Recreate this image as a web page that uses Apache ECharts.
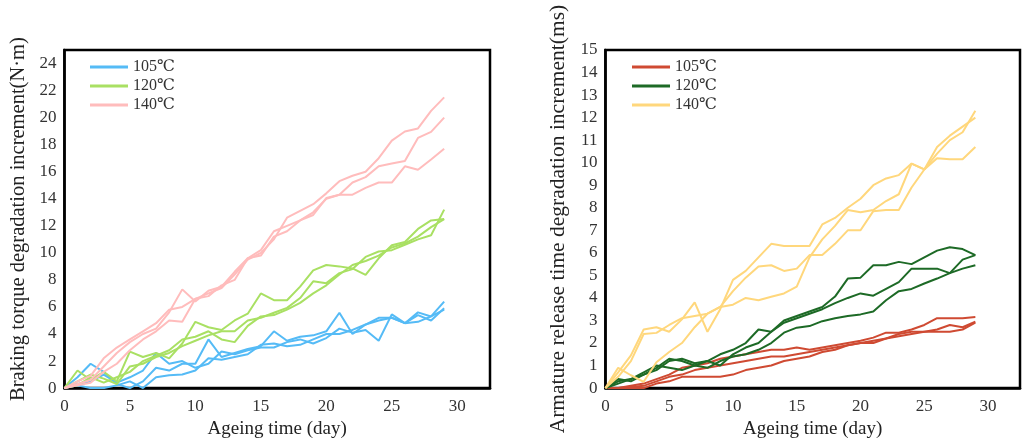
<!DOCTYPE html>
<html lang="en">
<head>
  <meta charset="UTF-8">
  <title>Ageing curves</title>
  <script src="https://cdn.jsdelivr.net/npm/echarts@6/dist/echarts.min.js"></script>
  <style>
    body { margin: 0; background: #fff; }
    #left { position: absolute; left: 0; top: 0; width: 540px; height: 444px; }
    #right { position: absolute; left: 540px; top: 0; width: 483px; height: 444px; }
  </style>
</head>
<body>
<div id="left"></div>
<div id="right"></div>
<script>
  // days 0..29
  var days = [];
  for (var i = 0; i < 30; i++) days.push(i);
  var temps = ['105℃', '120℃', '140℃'];

  // braking torque increment (N·m), three samples per temperature
  var torque105 = [
    [0,0.8,1.8,1.2,0.3,0,0.5,1.5,1.3,1.8,1.8,3.6,2.3,2.6,2.9,3.1,4.2,3.5,3.8,3.9,4.2,5.57,4.0,4.7,5.2,5.2,4.8,5.6,5.3,6.4],
    [0,0.3,0.5,1.0,0.4,0.8,1.3,2.6,1.8,2.0,1.5,1.8,2.7,2.5,2.8,3.0,3.0,3.4,3.6,3.3,3.7,4.4,4.1,4.3,3.5,5.45,4.8,5.4,5.0,5.9],
    [0,0.2,0,0,0.2,0.5,0,0.8,0.95,1.0,1.3,2.2,2.1,2.3,2.5,3.2,3.3,3.1,3.2,3.6,4.0,4.0,4.3,4.7,5.0,5.2,4.8,4.9,5.3,5.8]
  ];
  var torque120 = [
    [0,1.3,0.6,1.2,0.5,2.7,2.3,2.6,2.2,3.3,4.9,4.5,4.3,5.0,5.5,7.0,6.5,6.5,7.5,8.7,9.1,9.0,8.85,8.37,9.6,10.56,10.8,11.77,12.4,12.5],
    [0,0.5,1.0,0.7,0.3,1.6,1.8,2.3,2.6,3.1,3.5,3.9,4.2,4.2,5.0,5.2,5.57,5.93,6.66,7.9,7.76,8.5,8.8,9.7,10.1,10.2,10.6,11.0,11.3,13.2],
    [0,0.2,0.8,0.4,0.8,1.2,2.0,2.4,2.8,3.6,3.8,4.2,3.6,3.4,4.6,5.3,5.4,5.8,6.3,7.0,7.6,8.4,9.1,9.4,9.8,10.4,10.7,11.2,11.9,12.5]
  ];
  var torque140 = [
    [0,0.5,0.9,2.2,3.0,3.6,4.2,4.8,5.8,6.0,6.6,7.0,7.4,8.4,9.5,10.0,11.0,12.6,13.1,13.6,14.4,15.3,15.7,16.0,17.0,18.3,18.97,19.2,20.5,21.5],
    [0,0.3,0.6,1.6,2.6,3.4,4.0,4.4,5.6,7.3,6.4,7.2,7.5,8.6,9.6,10.2,11.6,12.0,12.4,13.0,14.0,14.3,15.2,15.6,16.4,16.6,16.8,18.5,18.95,20.0],
    [0,0.2,0.4,1.2,1.8,2.8,3.6,4.2,5.0,4.9,6.6,6.8,7.6,8.0,9.6,9.8,11.2,11.6,12.4,12.8,14.05,14.3,14.3,14.8,15.2,15.2,16.4,16.15,16.9,17.7]
  ];

  // armature release time increment (ms)
  var release105 = [
    [0,0,0.1,0.2,0.4,0.6,0.9,1.0,1.1,1.3,1.4,1.5,1.6,1.7,1.7,1.8,1.7,1.8,1.9,2.0,2.1,2.24,2.46,2.46,2.6,2.8,3.1,3.1,3.1,3.15],
    [0,0,0.05,0.1,0.3,0.5,0.6,0.8,0.9,1.0,1.1,1.2,1.3,1.4,1.4,1.5,1.6,1.7,1.8,1.9,2.0,2.1,2.2,2.4,2.5,2.5,2.6,2.8,2.7,2.95],
    [0,0,0,0,0.2,0.3,0.5,0.5,0.5,0.5,0.6,0.8,0.9,1.0,1.2,1.3,1.4,1.6,1.7,1.9,2.0,2.0,2.2,2.3,2.4,2.5,2.5,2.5,2.6,2.9]
  ];
  var release120 = [
    [0,0.3,0.4,0.6,0.9,1.3,1.2,1.0,1.2,1.5,1.7,2.0,2.6,2.5,3.0,3.2,3.4,3.6,4.06,4.86,4.9,5.45,5.45,5.6,5.5,5.8,6.1,6.25,6.17,5.9],
    [0,0.2,0.4,0.7,1.0,0.9,0.8,1.0,0.9,1.2,1.4,1.5,1.7,2.0,2.46,2.68,2.75,2.97,3.1,3.2,3.27,3.4,3.9,4.3,4.4,4.64,4.86,5.1,5.3,5.45],
    [0,0.4,0.3,0.6,0.8,1.2,1.3,1.1,1.2,1.0,1.5,1.8,2.0,2.5,2.9,3.1,3.3,3.5,3.77,4.0,4.2,4.1,4.4,4.7,5.3,5.3,5.3,5.1,5.7,5.9]
  ];
  var release140 = [
    [0,0.7,1.45,2.6,2.7,2.5,3.05,3.8,2.5,3.5,4.8,5.2,5.8,6.4,6.3,6.3,6.3,7.26,7.55,8.0,8.4,9.0,9.3,9.45,9.96,9.7,10.2,10.15,10.15,10.7],
    [0,0.5,1.2,2.4,2.45,2.8,3.1,3.2,3.3,3.6,3.7,4.0,3.9,4.05,4.2,4.5,5.8,6.6,7.2,7.9,7.8,7.9,8.3,8.6,9.96,9.7,10.4,11.0,11.35,12.3],
    [0,0.9,0.57,0.28,1.15,1.6,2.0,2.7,3.3,3.6,4.3,4.9,5.4,5.45,5.2,5.3,5.9,5.9,6.4,7.0,7.0,7.85,7.9,7.9,8.9,9.7,10.7,11.2,11.6,12.0]
  ];

  var serif = "'Liberation Serif', 'DejaVu Serif', 'Noto Sans CJK SC', serif";

  function makeSeries(groups, colors) {
    var out = [];
    groups.forEach(function (runs, g) {
      runs.forEach(function (run) {
        out.push({
          name: temps[g],
          type: 'line',
          symbol: 'none',
          data: run.map(function (v, k) { return [days[k], v]; }),
          lineStyle: { color: colors[g], width: 2 },
          itemStyle: { color: colors[g] }
        });
      });
    });
    return out;
  }

  function makeOption(yName, yMax, yInterval, groups, colors, gridLeft, yNameSize) {
    return {
      animation: false,
      textStyle: { fontFamily: serif },
      legend: {
        data: temps,
        orient: 'vertical',
        left: gridLeft + 22,
        top: 54,
        icon: 'rect',
        itemWidth: 38,
        itemHeight: 3,
        itemGap: 3,
        textStyle: { fontFamily: serif, fontSize: 16, color: '#333' }
      },
      grid: {
        left: gridLeft, top: 50, width: 427, height: 346,
        show: true, borderColor: '#000', borderWidth: 2.5
      },
      xAxis: {
        type: 'value', min: 0, max: 32.5, interval: 5,
        name: 'Ageing time (day)', nameLocation: 'middle', nameGap: 28,
        nameTextStyle: { fontFamily: serif, fontSize: 19, color: '#222' },
        axisLine: { lineStyle: { color: '#000', width: 2.5 } },
        axisTick: { show: false },
        splitLine: { show: false },
        axisLabel: {
          fontFamily: serif, fontSize: 17, color: '#333', margin: 10,
          formatter: function (v) { return v % 5 === 0 ? v : ''; }
        }
      },
      yAxis: {
        type: 'value', min: 0, max: yMax, interval: yInterval,
        name: yName, nameLocation: 'middle', nameGap: 34,
        nameTextStyle: { fontFamily: serif, fontSize: yNameSize, color: '#222' },
        axisLine: { lineStyle: { color: '#000', width: 2.5 } },
        axisTick: { show: false },
        splitLine: { show: false },
        axisLabel: { fontFamily: serif, fontSize: 17, color: '#333', margin: 8 }
      },
      series: makeSeries(groups, colors)
    };
  }

  var leftChart = echarts.init(document.getElementById('left'));
  leftChart.setOption(makeOption(
    'Braking torque degradation increment(N·m)', 25, 2,
    [torque105, torque120, torque140],
    ['#55bbf6', '#a9e063', '#ffbcbc'], 63, 20.5));

  var rightChart = echarts.init(document.getElementById('right'));
  rightChart.setOption(makeOption(
    'Armature release time degradation increment(ms)', 15, 1,
    [release105, release120, release140],
    ['#cf4a32', '#1d6a26', '#ffd77c'], 65, 21.5));
</script>
</body>
</html>
